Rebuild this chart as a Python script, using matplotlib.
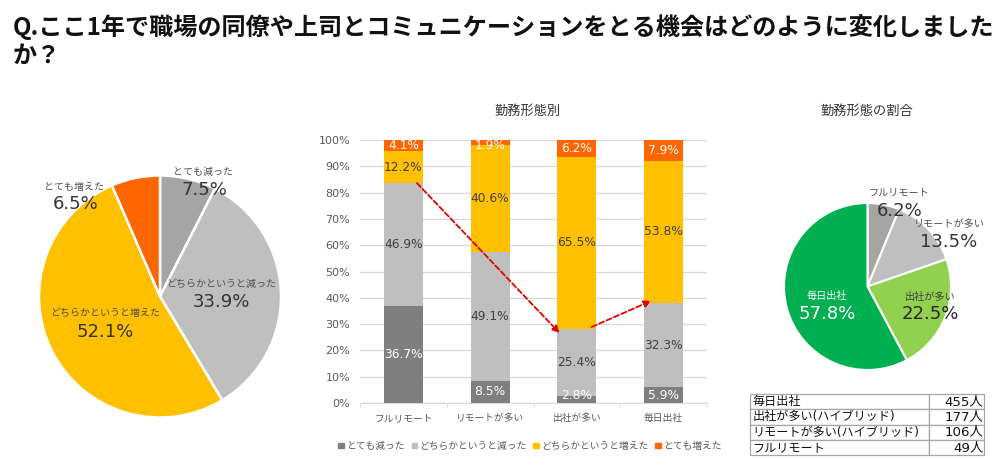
import matplotlib
matplotlib.use('Agg')
import matplotlib.pyplot as plt
import numpy as np
from matplotlib.patches import Patch

W = 1000
H = 465

plt.rcParams['font.family'] = ['DejaVu Sans', 'Noto Sans CJK JP']

title = 'Q.ここ1年で職場の同僚や上司とコミュニケーションをとる機会はどのように変化しました\nか？'

# left pie
answers = ['とても減った', 'どちらかというと減った', 'どちらかというと増えた', 'とても増えた']
total_values = [7.5, 33.9, 52.1, 6.5]
total_colors = ['#A5A5A5', '#BFBFBF', '#FFC000', '#FF6600']

# stacked bars
styles = ['フルリモート', 'リモートが多い', '出社が多い', '毎日出社']
very_down = [36.7, 8.5, 2.8, 5.9]
some_down = [46.9, 49.1, 25.4, 32.3]
some_up = [12.2, 40.6, 65.5, 53.8]
very_up = [4.1, 1.9, 6.2, 7.9]
bar_colors = ['#7F7F7F', '#BFBFBF', '#FFC000', '#FF6600']
label_colors = ['white', '#404040', '#404040', 'white']

# right pie
share_names = ['フルリモート', 'リモートが多い', '出社が多い', '毎日出社']
share_values = [6.2, 13.5, 22.5, 57.8]
share_colors = ['#A5A5A5', '#BFBFBF', '#92D050', '#00B050']

# table
table_names = ['毎日出社', '出社が多い(ハイブリッド)', 'リモートが多い(ハイブリッド)', 'フルリモート']
table_counts = ['455人', '177人', '106人', '49人']


def axes_px(fig, left, top, right, bottom):
    return fig.add_axes([left / W, 1 - bottom / H, (right - left) / W, (bottom - top) / H])


def text_px(fig, x, y, s, **kw):
    kw.setdefault('ha', 'center')
    kw.setdefault('va', 'center')
    fig.text(x / W, 1 - y / H, s, **kw)


fig = plt.figure(figsize=(W / 100, H / 100), dpi=100, facecolor='white')

text_px(fig, 13, 41, title, ha='left', fontsize=17.4, fontweight='bold', color='#111111',
        family=['Noto Sans CJK JP', 'DejaVu Sans'], linespacing=1.25)

# left pie
ax1 = axes_px(fig, 39, 175, 281, 418)
ax1.pie(total_values, colors=total_colors, startangle=90, counterclock=False, radius=1,
        wedgeprops={'edgecolor': 'white', 'linewidth': 1.8})
ax1.set_xlim(-1, 1)
ax1.set_ylim(-1, 1)

pie1_pos = [(203, 172, 190, 204), (221, 284, 302, 221), (105, 313, 332, 105), (74, 187, 204, 76)]
for i in range(4):
    x1, y1, y2, x2 = pie1_pos[i]
    text_px(fig, x1, y1, answers[i], fontsize=7.2, color='#505050')
    text_px(fig, x2, y2, '%.1f%%' % total_values[i], fontsize=13, color='#333333')

# bars
ax2 = axes_px(fig, 360, 140, 707, 403)
x = np.arange(len(styles))
series = [very_down, some_down, some_up, very_up]
bottom = np.zeros(len(styles))
# the thin segments have their labels moved a bit
nudge = {(1, 3): -1.4, (2, 0): 1.3}
for s in range(4):
    vals = np.array(series[s])
    ax2.bar(x, vals, 0.45, bottom=bottom, color=bar_colors[s], zorder=2)
    for i in range(len(styles)):
        y = bottom[i] + vals[i] / 2 + nudge.get((i, s), 0)
        ax2.text(i, y, '%.1f%%' % vals[i], ha='center', va='center', fontsize=8.8,
                 color=label_colors[s], zorder=4)
    bottom = bottom + vals

ax2.set_xlim(-0.5, 3.5)
ax2.set_ylim(0, 100)
ax2.set_yticks(np.arange(0, 101, 10))
ax2.set_yticklabels(['%d%%' % v for v in range(0, 101, 10)], fontsize=8, color='#595959')
ax2.set_xticks(x)
ax2.set_xticklabels(styles, fontsize=7, color='#595959')
ax2.set_xticks(np.arange(-0.5, 4, 1), minor=True)
ax2.tick_params(axis='y', length=0, pad=7)
ax2.tick_params(axis='x', which='major', length=0, pad=7)
ax2.tick_params(axis='x', which='minor', length=3, color='#D9D9D9')
ax2.grid(axis='y', color='#D9D9D9', linewidth=0.9, zorder=0)
ax2.set_axisbelow(True)
for side in ['top', 'right', 'left']:
    ax2.spines[side].set_visible(False)
ax2.spines['bottom'].set_color('#D9D9D9')

# red dashed arrows, tops of the grey stacks
gray_top = np.array(very_down) + np.array(some_down)
arrow = dict(arrowstyle='-|>', linestyle=(0, (3, 1.5)), color='#E00000', lw=1.3,
             mutation_scale=10, shrinkA=0, shrinkB=0)
ax2.annotate('', xy=(2 - 0.2, gray_top[2] - 1.6), xytext=(0 + 0.157, gray_top[0]),
             arrowprops=arrow, zorder=5)
ax2.annotate('', xy=(3 - 0.145, gray_top[3] + 0.6), xytext=(2 + 0.17, gray_top[2] + 0.7),
             arrowprops=arrow, zorder=5)

text_px(fig, 528, 111, '勤務形態別', fontsize=9.5, color='#333333')

handles = [Patch(color=bar_colors[i], label=answers[i]) for i in range(4)]
leg = fig.legend(handles=handles, loc='center', bbox_to_anchor=(530 / W, 1 - 446 / H), ncol=4,
                 frameon=False, fontsize=7, labelcolor='#595959', handlelength=0.55, handleheight=0.55,
                 handletextpad=0.25, columnspacing=0.7)

# right pie
ax3 = axes_px(fig, 784, 203, 951, 370)
ax3.pie(share_values, colors=share_colors, startangle=90, counterclock=False, radius=1,
        wedgeprops={'edgecolor': 'white', 'linewidth': 1.5})
ax3.set_xlim(-1, 1)
ax3.set_ylim(-1, 1)

pie3_pos = [(899, 193, 211, 900), (949, 224, 242, 949), (930, 297, 314, 930), (827, 296, 314, 827)]
pie3_text = ['#505050', '#505050', '#404040', 'white']
pie3_num = ['#333333', '#333333', '#262626', 'white']
for i in range(4):
    x1, y1, y2, x2 = pie3_pos[i]
    text_px(fig, x1, y1, share_names[i], fontsize=7.3, color=pie3_text[i])
    text_px(fig, x2, y2, '%.1f%%' % share_values[i], fontsize=13, color=pie3_num[i])

text_px(fig, 867, 111, '勤務形態の割合', fontsize=9.5, color='#333333')

# table
ax4 = axes_px(fig, 750, 394, 984, 455)
ax4.axis('off')
tbl = ax4.table(cellText=[[table_names[i], table_counts[i]] for i in range(4)],
                colWidths=[179 / 234, 55 / 234], bbox=[0, 0, 1, 1], cellLoc='left')
tbl.auto_set_font_size(False)
for (r, c), cell in tbl.get_celld().items():
    cell.set_edgecolor('#A6A6A6')
    cell.set_linewidth(0.9)
    cell.PAD = 0.012
    if c == 0:
        cell.set_text_props(fontsize=8.7, color='#111111', ha='left')
    else:
        cell.PAD = 0.01
        cell.set_text_props(fontsize=9.6, color='#111111', ha='right')

fig.savefig('out.png', dpi=100, facecolor='white')
